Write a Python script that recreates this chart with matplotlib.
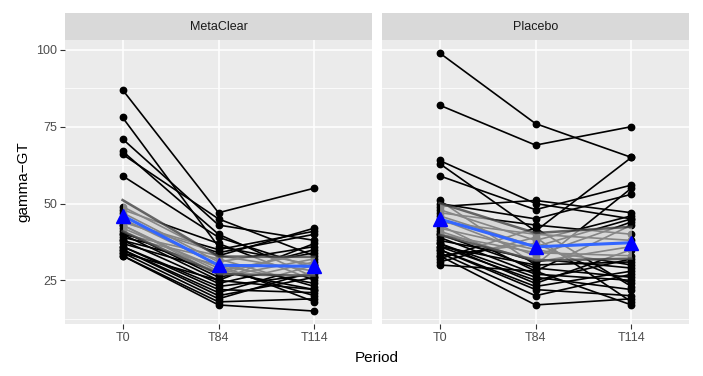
import matplotlib
matplotlib.use("Agg")
import matplotlib.pyplot as plt
import numpy as np

plt.rcParams["font.family"] = ["Liberation Sans", "DejaVu Sans"]

periods = ["T0", "T84", "T114"]
groups = ["MetaClear", "Placebo"]

# one row per subject: (T0, T84, T114)
metaclear = [
    (87, 47, 55), (78, 36, 30), (71, 43, 38), (67, 40, 26), (66, 45, 33),
    (59, 39, 29), (49, 33, 42), (48, 37, 25), (47, 31, 36), (44, 35, 41),
    (43, 28, 22), (45, 30, 24), (44, 34, 40), (43, 27, 35), (42, 29, 20),
    (41, 26, 32), (40, 33, 28), (40, 25, 37), (39, 32, 23), (38, 24, 31),
    (38, 30, 18), (37, 28, 34), (36, 23, 27), (36, 22, 21), (35, 21, 30),
    (35, 20, 26), (34, 19, 28), (34, 25, 22), (33, 18, 19), (33, 17, 15),
]
placebo = [
    (99, 76, 65), (82, 69, 75), (64, 50, 45), (63, 41, 65), (59, 48, 56),
    (51, 30, 55), (50, 45, 53), (49, 51, 47), (48, 38, 46), (47, 43, 40),
    (46, 36, 45), (45, 33, 44), (44, 40, 38), (43, 28, 43), (42, 35, 30),
    (41, 31, 36), (40, 29, 26), (40, 34, 33), (39, 27, 25), (38, 32, 29),
    (37, 24, 35), (37, 26, 22), (36, 25, 32), (36, 30, 31), (35, 23, 28),
    (35, 22, 20), (34, 20, 27), (33, 37, 24), (33, 17, 19), (32, 42, 23),
    (31, 39, 18), (30, 28, 17),
]
data = {"MetaClear": metaclear, "Placebo": placebo}

fig = plt.figure(figsize=(7.03, 3.76), dpi=100)
W, H = 703, 376
panel_x = [(65, 372), (382, 689)]
top, bottom = 40, 324
strip_h = 27

x = np.arange(1, len(periods) + 1)
axes = []
for i, g in enumerate(groups):
    x0, x1 = panel_x[i]
    ax = fig.add_axes([x0 / W, 1 - bottom / H, (x1 - x0) / W, (bottom - top) / H])
    axes.append(ax)
    ax.set_facecolor("#EBEBEB")
    for s in ax.spines.values():
        s.set_visible(False)
    ax.set_xlim(0.4, 3.6)
    ax.set_ylim(10.8, 103.2)
    ax.set_yticks([25, 50, 75, 100])
    ax.set_yticks([12.5, 37.5, 62.5, 87.5], minor=True)
    ax.set_xticks(x)
    ax.set_xticklabels(periods)
    ax.grid(which="major", color="white", linewidth=1.1, zorder=0)
    ax.grid(which="minor", axis="y", color="white", linewidth=0.55, zorder=0)
    ax.set_axisbelow(True)
    ax.tick_params(which="major", length=3.5, width=0.8, color="#333333",
                   labelcolor="#4D4D4D", labelsize=9, pad=2)
    ax.tick_params(which="minor", length=0)
    if i > 0:
        ax.tick_params(axis="y", which="both", length=0, labelleft=False)

    arr = np.array(data[g], dtype=float)
    for row in arr:
        ax.plot(x, row, color="black", linewidth=1.2, zorder=2)
        ax.plot(x, row, "o", color="black", markersize=4.6, zorder=3)

    mean = arr.mean(axis=0)
    se = arr.std(axis=0, ddof=1) / np.sqrt(len(arr))
    lo, hi = mean - 1.96 * se, mean + 1.96 * se
    ax.fill_between(x, lo, hi, color="#CFCFCF", alpha=0.65, linewidth=0, zorder=4)
    ax.plot(x, lo, color="#444444", linewidth=1.8, alpha=0.8, zorder=4)
    ax.plot(x, hi, color="#444444", linewidth=1.8, alpha=0.8, zorder=4)
    ax.plot(x, mean, color="#3366FF", linewidth=2.2, zorder=5)
    ax.plot(x, mean, "^", color="#0000FF", markersize=10, zorder=6)

    # facet strip
    sax = fig.add_axes([x0 / W, 1 - top / H, (x1 - x0) / W, strip_h / H])
    sax.set_facecolor("#D9D9D9")
    sax.set_xticks([])
    sax.set_yticks([])
    for s in sax.spines.values():
        s.set_visible(False)
    sax.text(0.5, 0.5, g, ha="center", va="center", fontsize=9, color="#1A1A1A",
             transform=sax.transAxes)

axes[0].set_ylabel("gamma\u2212GT", fontsize=11, labelpad=4)
fig.text((65 + 689) / 2 / W, 1 - 358 / H, "Period", ha="center", va="center", fontsize=11)

fig.savefig("out.png", dpi=100)
